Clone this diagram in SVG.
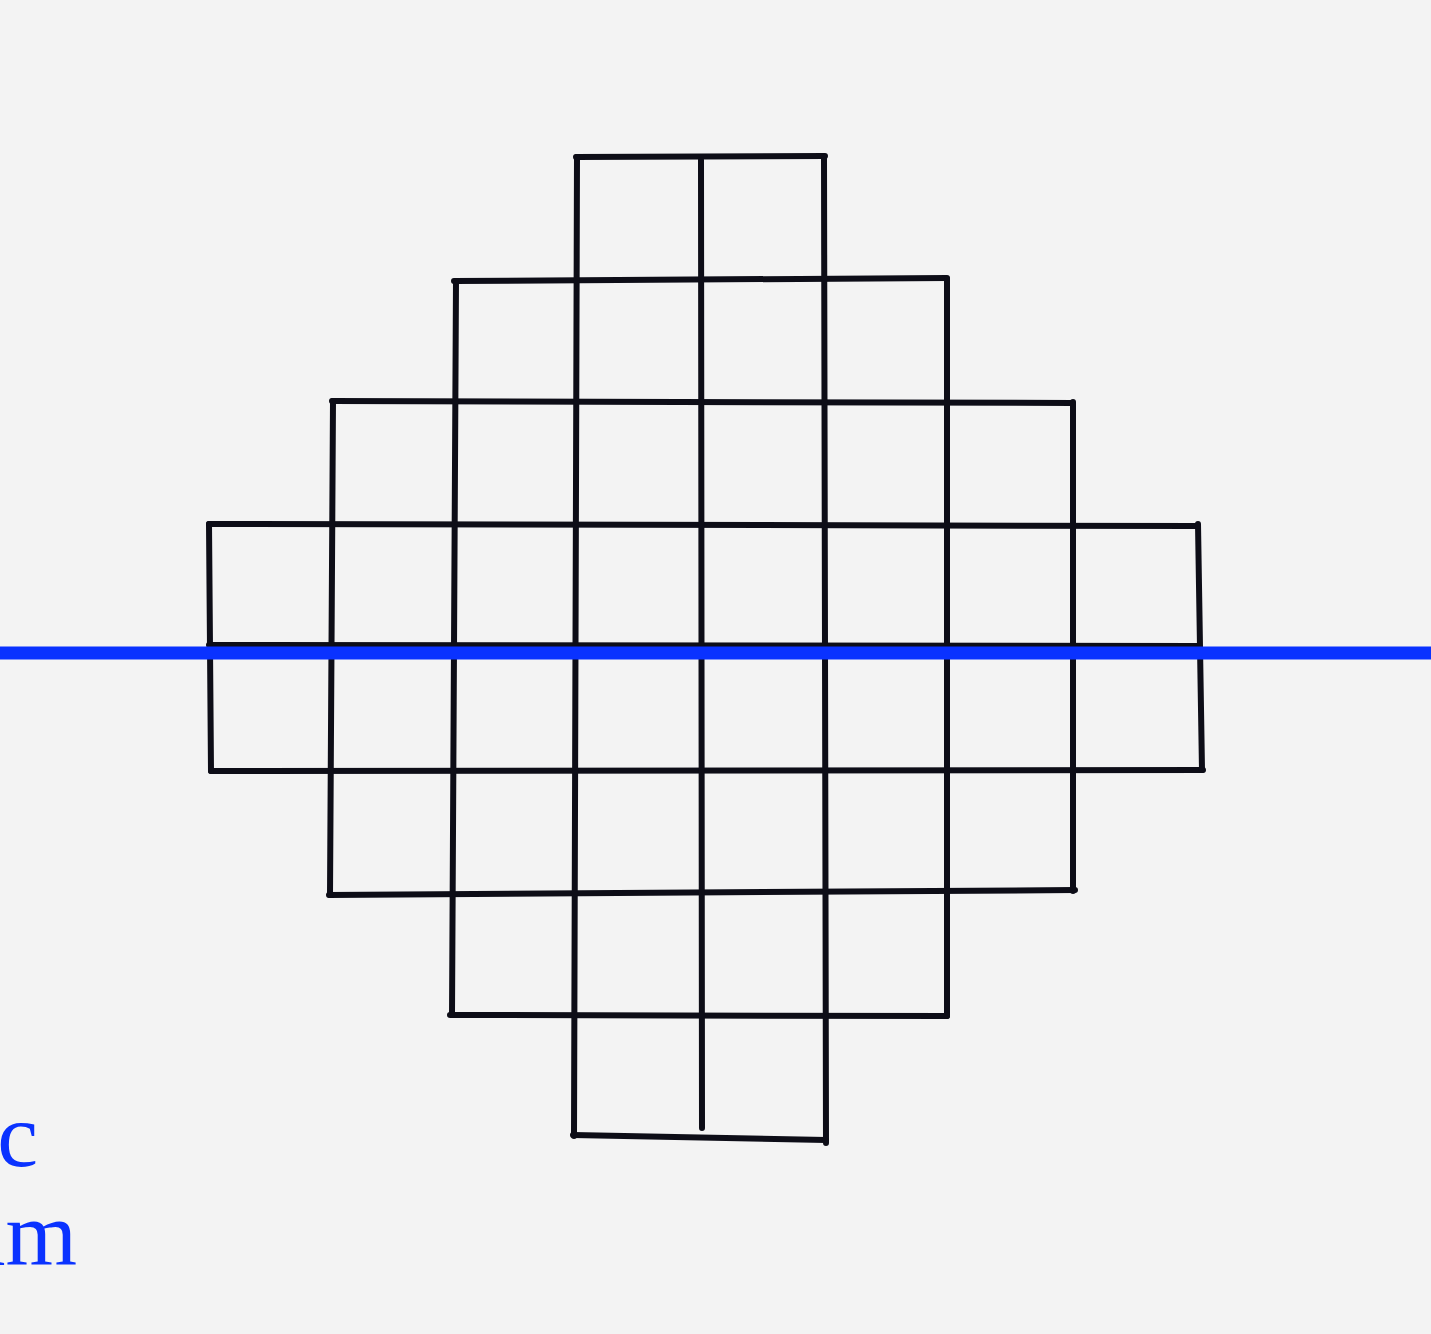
<svg xmlns="http://www.w3.org/2000/svg" width="1431" height="1334" viewBox="0 0 1431 1334">
  <style>
    .g { stroke: #0d0d17; stroke-width: 6; stroke-linecap: round; fill: none; }
    .lbl { font-family: "Liberation Serif", "Times New Roman", serif; font-size: 92px; fill: #0a32ff; text-anchor: end; }
  </style>
  <rect width="1431" height="1334" fill="#f3f3f3"/>
  <g id="grid">
    <line class="g" x1="576" y1="157" x2="825" y2="156"/>
    <line class="g" x1="454" y1="281" x2="947" y2="278"/>
    <line class="g" x1="332" y1="401" x2="1072" y2="403"/>
    <line class="g" x1="209" y1="524" x2="1198" y2="526"/>
    <line class="g" x1="209" y1="645" x2="1198" y2="646"/>
    <line class="g" x1="211" y1="771" x2="1203" y2="770"/>
    <line class="g" x1="329" y1="895" x2="1075" y2="890"/>
    <line class="g" x1="450" y1="1015" x2="947" y2="1016"/>
    <line class="g" x1="573" y1="1135" x2="826" y2="1140"/>

    <line class="g" x1="209" y1="524" x2="211" y2="771"/>
    <line class="g" x1="333" y1="401" x2="330" y2="895"/>
    <line class="g" x1="456" y1="281" x2="452" y2="1015"/>
    <line class="g" x1="577" y1="157" x2="574" y2="1136"/>
    <line class="g" x1="701" y1="160" x2="702" y2="1128"/>
    <line class="g" x1="824" y1="157" x2="826" y2="1143"/>
    <line class="g" x1="947" y1="279" x2="947" y2="1016"/>
    <line class="g" x1="1073" y1="402" x2="1073" y2="891"/>
    <line class="g" x1="1198" y1="524" x2="1202" y2="770"/>
  </g>
  <g id="axis">
    <line x1="0" y1="653" x2="1431" y2="653" stroke="#0a32ff" stroke-width="13"/>
  </g>
  <g id="labels">
    <text class="lbl" x="38" y="1166">c</text>
    <text class="lbl" x="77" y="1265">am</text>
  </g>
</svg>
